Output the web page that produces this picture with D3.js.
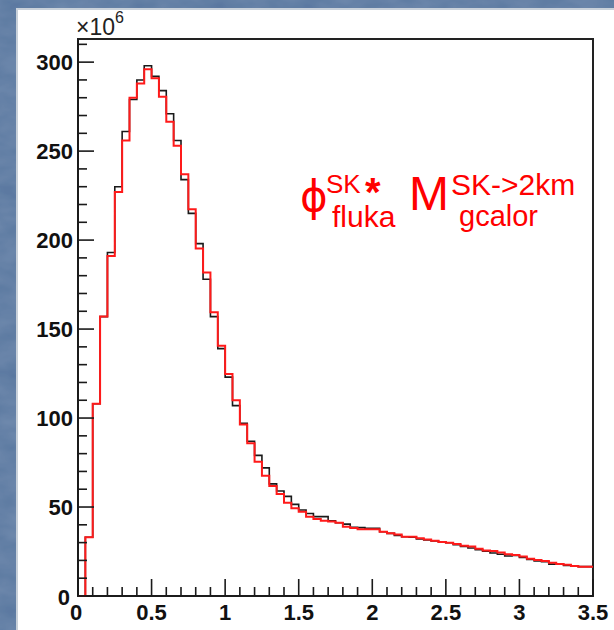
<!DOCTYPE html>
<html><head><meta charset="utf-8">
<script src="https://cdn.jsdelivr.net/npm/d3@7/dist/d3.min.js"></script>
<style>html,body{margin:0;padding:0;background:#57769f;}svg{display:block;}</style>
</head><body>
<script>
// ---- data ----
const binWidth = 0.05;
const xTicks = [0, 0.5, 1, 1.5, 2, 2.5, 3, 3.5];
const xTickLabels = ["0", "0.5", "1", "1.5", "2", "2.5", "3", "3.5"];
const yTicks = [0, 50, 100, 150, 200, 250, 300];
const yTickLabels = ["0", "50", "100", "150", "200", "250", "300"];
const blackHist = [0, 33, 108, 157, 193, 230, 261, 279, 290, 298,
  292, 284, 271, 256, 234, 215, 198, 178, 157, 139,
  123, 107, 97, 87, 79, 72, 63, 59, 56, 51.5,
  48.3, 46.4, 44.6, 44.6, 42.3, 41.2, 40.4, 38.6, 38.4, 38,
  38, 36.1, 35.2, 34, 33.3, 33, 32, 31.5, 31, 30.3,
  29.9, 28.8, 27.8, 27, 26, 25.2, 24.2, 23.5, 22.5, 22.8,
  21.7, 20.5, 19.7, 19.3, 17.9, 17.8, 17.2, 16.9, 16.5, 16.5];
const redHist = [0, 33, 108, 157, 191, 227, 256, 280, 288, 296,
  291, 280.5, 266.5, 253, 237, 217.4, 195.3, 181.8, 159.4, 140.6,
  124.7, 110, 96.4, 85.8, 75.5, 67.6, 61.8, 57.3, 52.4, 49.3,
  47.4, 44.6, 43.3, 42.3, 41.8, 41.2, 38.9, 38.2, 37.5, 37.5,
  37.5, 36.1, 35.2, 34.5, 33.3, 33.3, 32.5, 31.8, 31.1, 30.3,
  29.9, 29.2, 28.3, 27.8, 26.5, 25.5, 25.3, 24.5, 23.4, 23,
  22.2, 21, 20.3, 19.7, 18.7, 18, 17.6, 16.9, 16.5, 16.5];

// ---- layout ----
const W = 614, H = 630;
const L = 78, R = 593, T = 39, B = 596;
const x = d3.scaleLinear().domain([0, 3.5]).range([L, R]);
const y = d3.scaleLinear().domain([0, 313]).range([B, T]);

const svg = d3.select("body").append("svg").attr("width", W).attr("height", H);
const defs = svg.append("defs");
const f = defs.append("filter").attr("id", "tex").attr("x", 0).attr("y", 0).attr("width", "100%").attr("height", "100%");
f.append("feTurbulence").attr("type", "fractalNoise").attr("baseFrequency", "0.03 0.06").attr("numOctaves", 3).attr("seed", 4).attr("result", "n");
f.append("feColorMatrix").attr("in", "n").attr("type", "matrix")
  .attr("values", "0 0 0 0 0.42  0 0 0 0 0.55  0 0 0 0 0.72  0 0 0 0.22 0").attr("result", "c");
f.append("feComposite").attr("in", "c").attr("in2", "SourceGraphic").attr("operator", "over");

svg.append("rect").attr("width", W).attr("height", H).attr("fill", "#56759e").attr("filter", "url(#tex)");
// white canvas
svg.append("rect").attr("x", 17).attr("y", 9).attr("width", W - 17 + 2).attr("height", H - 9 + 2)
  .attr("fill", "#ffffff").attr("stroke", "#c9d1da").attr("stroke-width", 2);

// frame
svg.append("rect").attr("x", L).attr("y", T).attr("width", R - L).attr("height", B - T)
  .attr("fill", "#ffffff").attr("stroke", "#222").attr("stroke-width", 2);

// histograms
function stepPath(vals) {
  let p = d3.path();
  vals.forEach((v, i) => {
    const x0 = x(i * binWidth), x1 = x((i + 1) * binWidth);
    if (i === 0) p.moveTo(x0, y(v)); else p.lineTo(x0, y(v));
    p.lineTo(x1, y(v));
  });
  return p.toString();
}
svg.append("path").attr("d", stepPath(blackHist)).attr("fill", "none").attr("stroke", "#1a1a1a").attr("stroke-width", 1.6);
svg.append("path").attr("d", stepPath(redHist)).attr("fill", "none").attr("stroke", "#ff1a1a").attr("stroke-width", 2);

// axes lines
const axG = svg.append("g").attr("stroke", "#1a1a1a").attr("stroke-width", 1.6);
axG.append("line").attr("x1", L).attr("x2", R).attr("y1", B).attr("y2", B);
axG.append("line").attr("x1", L).attr("x2", L).attr("y1", B).attr("y2", T);
// x ticks
d3.range(0, 36).forEach(i => {
  const v = i / 10;
  const major = i % 5 === 0;
  axG.append("line").attr("x1", x(v)).attr("x2", x(v)).attr("y1", B).attr("y2", B - (major ? 17 : 9));
});
// y ticks
d3.range(0, 32).forEach(i => {
  const v = i * 10;
  const major = i % 5 === 0;
  axG.append("line").attr("x1", L).attr("x2", L + (major ? 16 : 9)).attr("y1", y(v)).attr("y2", y(v));
});

// labels
const font = "'Liberation Sans', Arial, Helvetica, sans-serif";
svg.append("g").selectAll("text").data(yTicks).join("text")
  .attr("x", (d, i) => d === 0 ? L - 8 : L - 5)
  .attr("y", d => d === 0 ? y(d) + 9 : y(d) + 8)
  .attr("text-anchor", "end").attr("font-family", font).attr("font-weight", "bold")
  .attr("font-size", 22).attr("fill", "#111")
  .text((d, i) => yTickLabels[i]);
svg.append("g").selectAll("text").data(xTicks).join("text")
  .attr("x", d => d === 0 ? x(d) - 2 : x(d))
  .attr("y", 620)
  .attr("text-anchor", "middle").attr("font-family", font).attr("font-weight", "bold")
  .attr("font-size", 22).attr("fill", "#111")
  .text((d, i) => xTickLabels[i]);

// exponent
const ex = svg.append("text").attr("x", 76).attr("y", 35).attr("font-family", font).attr("font-size", 23).attr("fill", "#222");
ex.append("tspan").text("×10");
ex.append("tspan").attr("dy", -12).attr("font-size", 16).text("6");

// annotation
const red = "#ff0000";
svg.append("text").attr("x", 300).attr("y", 211).attr("font-family", "'DejaVu Sans', sans-serif").attr("font-size", 42).attr("fill", red).text("\u03D5");
const sk = svg.append("text").attr("x", 326).attr("y", 193).attr("font-family", font).attr("font-size", 26).attr("fill", red);
sk.append("tspan").text("SK");
sk.append("tspan").attr("x", 365).attr("y", 206).attr("font-weight", "bold").attr("font-size", 40).text("*");
svg.append("text").attr("x", 332).attr("y", 227).attr("font-family", font).attr("font-size", 30).attr("fill", red).text("fluka");
svg.append("text").attr("x", 409).attr("y", 210).attr("font-family", font).attr("font-size", 48).attr("fill", red).text("M");
svg.append("text").attr("x", 451).attr("y", 195).attr("font-family", font).attr("font-size", 30).attr("fill", red).text("SK->2km");
svg.append("text").attr("x", 459).attr("y", 226).attr("font-family", font).attr("font-size", 29).attr("fill", red).text("gcalor");
</script>
</body></html>
